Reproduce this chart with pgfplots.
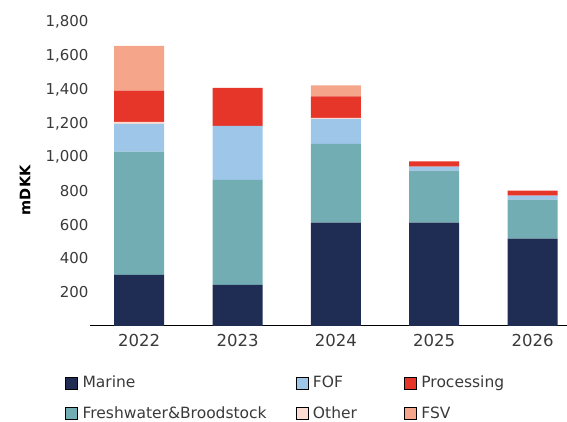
\documentclass[border=0pt]{standalone}
\usepackage{fontspec}
\setmainfont{DejaVu Sans}
\usepackage{pgfplots}
\pgfplotsset{compat=1.18}
\definecolor{cMarine}{HTML}{1F2D55}
\definecolor{cFW}{HTML}{72ADB4}
\definecolor{cFOF}{HTML}{9DC6E8}
\definecolor{cOther}{HTML}{FADCD2}
\definecolor{cProc}{HTML}{E6362A}
\definecolor{cFSV}{HTML}{F4A58A}
\definecolor{txt}{HTML}{3A3A3A}
\begin{document}
\begin{tikzpicture}
\begin{axis}[
  name=ax,
  scale only axis,
  width=477pt, height=304pt,
  ybar stacked, bar width=50pt,
  xmin=-0.5, xmax=4.35,
  ymin=0, ymax=1800,
  xtick={0,1,2,3,4},
  xticklabels={2022,2023,2024,2025,2026},
  ytick={200,400,...,1800},
  major tick length=0pt,
  axis x line=bottom, axis y line=left,
  x axis line style={-, draw=black, line width=1pt},
  y axis line style={draw=none},
  /pgf/number format/assume math mode=true,
  /pgf/number format/1000 sep={,},
  yticklabel style={font=\fontsize{15}{17}\selectfont, text=txt, anchor=east, xshift=2pt},
  xticklabel style={font=\fontsize{16.5}{18}\selectfont, text=txt, yshift=-5pt},
  ylabel={\textbf{mDKK}},
  ylabel style={font=\fontsize{14.5}{16}\selectfont, text=black, at={(axis description cs:-0.136,0.447)}, anchor=center},
  legend image code/.code={\fill[#1] (0pt,-6pt) rectangle (12pt,6pt);},
  legend style={at={(axis description cs:0,0)}, anchor=north west, xshift=-25pt, yshift=-50pt,
    draw=none, fill=none, font=\fontsize{15.5}{17}\selectfont, text=txt,
    column sep=0pt, row sep=17.5pt, inner sep=0pt,
    nodes={inner sep=0pt, anchor=west}},
  legend columns=3,
  legend cell align=left,
]
\addplot+[fill=cMarine, draw=none, forget plot] coordinates {(0,302) (1,243) (2,612) (3,612) (4,517)};
\addplot+[fill=cFW, draw=none, forget plot] coordinates {(0,730) (1,622) (2,466) (3,308) (4,232)};
\addplot+[fill=cFOF, draw=none, forget plot] coordinates {(0,165) (1,320) (2,147) (3,24) (4,23)};
\addplot+[fill=cOther, draw=none, forget plot] coordinates {(0,12) (1,0) (2,7) (3,0) (4,0)};
\addplot+[fill=cProc, draw=none, forget plot] coordinates {(0,185) (1,225) (2,127) (3,30) (4,30)};
\addplot+[fill=cFSV, draw=none, forget plot] coordinates {(0,265) (1,0) (2,65) (3,0) (4,0)};
\addlegendimage{fill=cMarine}
\addlegendentry{\hspace{5pt}\makebox[213pt][l]{Marine}}
\addlegendimage{fill=cFOF}
\addlegendentry{\hspace{5pt}\makebox[91pt][l]{FOF}}
\addlegendimage{fill=cProc}
\addlegendentry{\hspace{5pt}Processing}
\addlegendimage{fill=cFW}
\addlegendentry{\hspace{5pt}\makebox[213pt][l]{Freshwater\&Broodstock}}
\addlegendimage{fill=cOther}
\addlegendentry{\hspace{5pt}\makebox[91pt][l]{Other}}
\addlegendimage{fill=cFSV}
\addlegendentry{\hspace{5pt}FSV}
\end{axis}
\pgfresetboundingbox
\path ([shift={(-90pt,-96pt)}]ax.south west) rectangle ([shift={(0pt,22pt)}]ax.north east);
\end{tikzpicture}
\end{document}
